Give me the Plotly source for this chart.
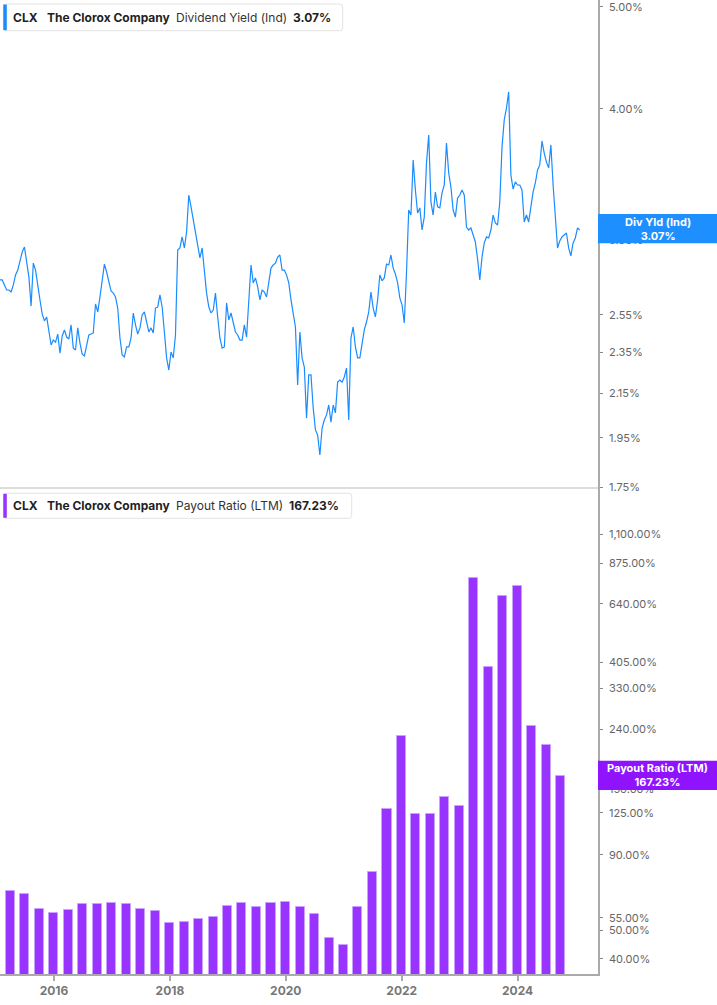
import pandas as pd
import plotly.graph_objects as go

# ---------------- data ----------------
yield_start = "2015-01-26"          # first sample of the dividend-yield series
yield_step = "14D"                  # sampling interval of the series
div_yield = [
    2.753, 2.753, 2.723, 2.693, 2.693, 2.681, 2.723, 2.783, 2.813, 2.875,
    2.926, 2.958, 2.875, 2.771, 2.600, 2.856, 2.813, 2.711, 2.635, 2.556,
    2.517, 2.539, 2.463, 2.388, 2.414, 2.403, 2.446, 2.346, 2.436, 2.468,
    2.430, 2.420, 2.495, 2.372, 2.362, 2.479, 2.398, 2.341, 2.332, 2.378,
    2.441, 2.446, 2.452, 2.612, 2.567, 2.652, 2.765, 2.850, 2.801, 2.747,
    2.687, 2.675, 2.652, 2.589, 2.425, 2.337, 2.327, 2.378, 2.378, 2.425,
    2.561, 2.495, 2.446, 2.479, 2.550, 2.567, 2.506, 2.457, 2.479, 2.452,
    2.589, 2.595, 2.664, 2.595, 2.457, 2.322, 2.261, 2.352, 2.322, 2.441,
    2.939, 2.952, 3.024, 2.952, 3.057, 3.314, 3.229, 3.138, 3.050, 2.958,
    2.888, 2.952, 2.813, 2.675, 2.595, 2.561, 2.578, 2.675, 2.539, 2.425,
    2.372, 2.378, 2.618, 2.522, 2.561, 2.506, 2.457, 2.441, 2.414, 2.414,
    2.495, 2.430, 2.618, 2.844, 2.735, 2.765, 2.711, 2.635, 2.693, 2.681,
    2.652, 2.735, 2.825, 2.844, 2.856, 2.894, 2.907, 2.813, 2.813, 2.783,
    2.735, 2.635, 2.550, 2.484, 2.188, 2.457, 2.322, 2.276, 2.036, 2.237,
    2.237, 2.081, 1.984, 1.962, 1.878, 1.992, 2.027, 2.050, 2.095, 2.018,
    2.095, 2.059, 2.202, 2.212, 2.202, 2.227, 2.271, 2.027, 2.425, 2.484,
    2.378, 2.322, 2.322, 2.398, 2.468, 2.511, 2.567, 2.681, 2.589, 2.539,
    2.635, 2.783, 2.747, 2.765, 2.850, 2.844, 2.907, 2.825, 2.789, 2.735,
    2.647, 2.606, 2.506, 2.795, 3.207, 3.172, 3.577, 3.351, 3.186, 3.222,
    3.070, 3.158, 3.554, 3.778, 3.264, 3.172, 3.336, 3.229, 3.222, 3.329,
    3.387, 3.713, 3.477, 3.372, 3.207, 3.158, 3.292, 3.314, 3.351, 3.314,
    3.090, 3.070, 3.084, 3.037, 2.991, 2.882, 2.753, 2.894, 2.984, 3.024,
    3.017, 3.070, 3.172, 3.118, 3.104, 3.264, 3.681, 3.904, 4.007, 4.151,
    3.462, 3.357, 3.410, 3.387, 3.387, 3.351, 3.124, 3.172, 3.124, 3.229,
    3.336, 3.402, 3.500, 3.539, 3.729, 3.632, 3.561, 3.516, 3.697, 3.387,
    3.151, 2.952, 2.997, 3.024, 3.037, 3.050, 2.952, 2.901, 2.984, 3.017,
    3.084, 3.07,
]

quarters = [
    "2014-12-31", "2015-03-31", "2015-06-30", "2015-09-30",
    "2015-12-31", "2016-03-31", "2016-06-30", "2016-09-30",
    "2016-12-31", "2017-03-31", "2017-06-30", "2017-09-30",
    "2017-12-31", "2018-03-31", "2018-06-30", "2018-09-30",
    "2018-12-31", "2019-03-31", "2019-06-30", "2019-09-30",
    "2019-12-31", "2020-03-31", "2020-06-30", "2020-09-30",
    "2020-12-31", "2021-03-31", "2021-06-30", "2021-09-30",
    "2021-12-31", "2022-03-31", "2022-06-30", "2022-09-30",
    "2022-12-31", "2023-03-31", "2023-06-30", "2023-09-30",
    "2023-12-31", "2024-03-31", "2024-06-30", "2024-09-30",
]
payout_ratio = [
    71.6, 67.7, 66.2, 58.8,
    57.1, 58.5, 61.4, 61.5,
    61.9, 61.5, 58.8, 58.2,
    52.9, 53.2, 54.5, 55.2,
    60.4, 61.7, 59.7, 61.7,
    62.5, 59.8, 56.6, 46.9,
    44.5, 60.0, 78.5, 128.3,
    227.3, 123.4, 123.4, 141.2,
    132.3, 784.5, 390.6, 681.6,
    736.9, 245.9, 211.9, 167.23,
]

yield_ticks = [1.75, 1.95, 2.15, 2.35, 2.55, 3.00, 4.00, 5.00]
payout_ticks = [40, 50, 55, 90, 125, 150, 240, 330, 405, 640, 875, 1100]

ticker = "CLX"
company = "The Clorox Company"
yield_name = "Dividend Yield (Ind)"
payout_name = "Payout Ratio (LTM)"
yield_last = "3.07%"
payout_last = "167.23%"

# ---------------- styling ----------------
BLUE = "#1a8cff"
PURPLE = "#9933ff"
FONT = "Inter, Roboto, sans-serif"
W, H = 717, 1005
PLOT_W, PLOT_H = 598, 974          # plot area (margins l=0,t=0)
SPLIT = 488                         # pixel row dividing the two panels

def px(x):
    return x / PLOT_W

def py(y):
    return (PLOT_H - y) / PLOT_H

split_frac = py(SPLIT)

yield_dates = pd.date_range(yield_start, periods=len(div_yield), freq=yield_step)

fig = go.Figure()
fig.add_trace(go.Scatter(
    x=yield_dates, y=div_yield, mode="lines",
    line=dict(color=BLUE, width=1.2),
    xaxis="x2", yaxis="y", hoverinfo="skip", showlegend=False,
))
fig.add_trace(go.Bar(
    x=pd.to_datetime(quarters), y=payout_ratio,
    width=57 * 86400000,
    marker=dict(color=PURPLE, line=dict(color="#c9a2ff", width=1)),
    xaxis="x", yaxis="y2", hoverinfo="skip", showlegend=False,
))

x_range = ["2015-01-26", "2025-05-22"]
axis_font = dict(family=FONT, size=11, color="#666666")

fig.update_layout(
    width=W, height=H,
    margin=dict(l=0, r=W - PLOT_W, t=0, b=H - PLOT_H),
    paper_bgcolor="white", plot_bgcolor="white",
    bargap=0,
    xaxis=dict(
        domain=[0, 1], anchor="y2", type="date", range=x_range,
        showgrid=False, zeroline=False,
        showline=True, linecolor="#aaaaaa", linewidth=1.5,
        ticks="outside", ticklen=5, tickcolor="#aaaaaa", tickwidth=1.5,
        tick0="2016-01-01", dtick="M24", tickformat="%Y",
        tickfont=dict(family=FONT, size=12, color="#777777", weight="bold"),
    ),
    xaxis2=dict(
        domain=[0, 1], anchor="y", type="date", range=x_range, matches="x",
        showgrid=False, zeroline=False, showline=False, showticklabels=False,
        ticks="",
    ),
    yaxis=dict(
        domain=[split_frac, 1], anchor="x2", side="right", type="log",
        range=[0.24241, 0.70533],
        tickvals=yield_ticks, ticktext=[f"{v:.2f}%" for v in yield_ticks],
        showgrid=False, zeroline=False,
        showline=True, linecolor="#aaaaaa", linewidth=1.5,
        ticks="outside", ticklen=3, tickcolor="#888888",
        ticklabelstandoff=4, ticklabeloverflow="allow",
        tickfont=axis_font,
    ),
    yaxis2=dict(
        domain=[0, split_frac], anchor="x", side="right", type="log",
        range=[1.55018, 3.19839],
        tickvals=payout_ticks, ticktext=[f"{v:,.2f}%" for v in payout_ticks],
        showgrid=False, zeroline=False,
        showline=True, linecolor="#aaaaaa", linewidth=1.5,
        ticks="outside", ticklen=3, tickcolor="#888888",
        ticklabelstandoff=4, ticklabeloverflow="allow",
        tickfont=axis_font,
    ),
)

shapes = []
annotations = []

# divider between panels
shapes.append(dict(type="line", xref="paper", yref="paper",
                   x0=0, x1=1, y0=split_frac, y1=split_frac,
                   line=dict(color="#dddddd", width=2)))

def rounded_box(x0, y0, x1, y1, r=3):
    # pixel coordinates -> paper path with rounded corners
    X0, X1 = px(x0), px(x1)
    Y0, Y1 = py(y0), py(y1)
    rx, ry = r / PLOT_W, r / PLOT_H
    return (f"M {X0+rx},{Y0} L {X1-rx},{Y0} Q {X1},{Y0} {X1},{Y0-ry} "
            f"L {X1},{Y1+ry} Q {X1},{Y1} {X1-rx},{Y1} "
            f"L {X0+rx},{Y1} Q {X0},{Y1} {X0},{Y1+ry} "
            f"L {X0},{Y0-ry} Q {X0},{Y0} {X0+rx},{Y0} Z")

def legend_box(y0, y1, x1, color, parts):
    shapes.append(dict(type="path", xref="paper", yref="paper",
                       path=rounded_box(3.3, y0, x1, y1),
                       fillcolor="white", line=dict(color="#e3e3e3", width=1)))
    shapes.append(dict(type="rect", xref="paper", yref="paper",
                       x0=px(3.3), x1=px(6.8), y0=py(y1 - 0.5), y1=py(y0 + 0.5),
                       fillcolor=color, line=dict(width=0)))
    yc = py((y0 + y1) / 2)
    for xpos, text, bold in parts:
        annotations.append(dict(
            xref="paper", yref="paper", x=px(xpos), y=yc,
            xanchor="left", yanchor="middle", showarrow=False,
            text=f"<b>{text}</b>" if bold else text,
            font=dict(family=FONT, size=12, color="#1f1f1f" if bold else "#333333"),
        ))

legend_box(4, 30.7, 342.7, BLUE, [
    (11, ticker, True), (45, company, True),
    (174, yield_name, False), (291, yield_last, True),
])
legend_box(493.3, 518.3, 351.7, PURPLE, [
    (11, ticker, True), (45, company, True),
    (174, payout_name, False), (287, payout_last, True),
])

def value_tag(y0, y1, color, text):
    shapes.append(dict(type="rect", xref="paper", yref="paper",
                       x0=1.0, x1=W / PLOT_W, y0=py(y1), y1=py(y0),
                       fillcolor=color, line=dict(width=0)))
    annotations.append(dict(
        xref="paper", yref="paper", x=px((PLOT_W + W) / 2), y=py((y0 + y1) / 2),
        xanchor="center", yanchor="middle", showarrow=False, text=text,
        font=dict(family=FONT, size=11, color="white", weight="bold"),
    ))

value_tag(214, 243.3, "#1e8fff", f"Div Yld (Ind)<br>{yield_last}")
value_tag(760.7, 790, "#9013fe", f"{payout_name}<br>{payout_last}")

fig.update_layout(shapes=shapes, annotations=annotations)

# remove the browser's default 8px body margin so the figure fills the window
fig.write_html("out.html",
               config={"displayModeBar": False},
               post_script="document.body.style.margin='0';document.body.style.padding='0';")
